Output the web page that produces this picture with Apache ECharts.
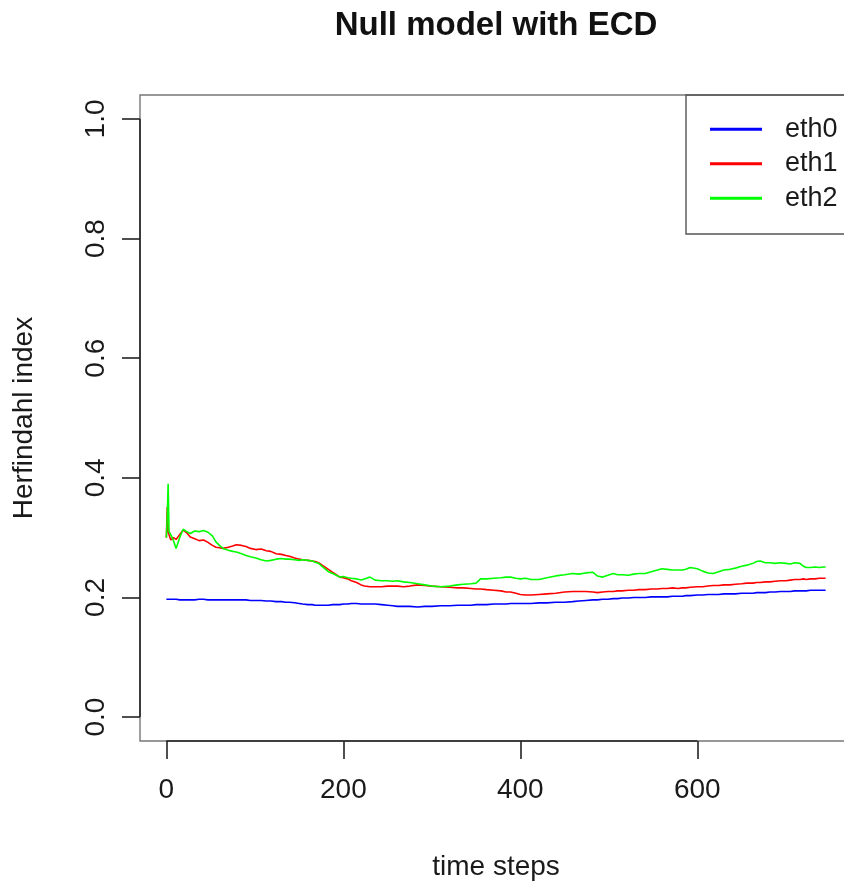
<!DOCTYPE html>
<html>
<head>
<meta charset="utf-8">
<script src="https://cdn.jsdelivr.net/npm/echarts@6/dist/echarts.min.js"></script>
<style>
html,body{margin:0;padding:0;background:#fff;}
#chart{width:844px;height:882px;}
</style>
</head>
<body>
<div id="chart"></div>
<script>
const chartTitle = 'Null model with ECD';
const xTitle = 'time steps';
const yTitle = 'Herfindahl index';
const seriesNames = ['eth0', 'eth1', 'eth2'];
const xTicks = [0, 200, 400, 600];
const yTicks = [0, 0.2, 0.4, 0.6, 0.8, 1.0];

const steps = [0,1,2,3,5,8,11,15,19,23,
27,32,37,42,47,52,56,60,64,70,
75,79,85,90,95,101,107,113,118,124,
130,135,139,145,150,154,160,165,168,172,
176,179,183,188,192,196,200,205,209,215,
220,224,230,236,243,250,256,261,268,275,
284,292,300,310,320,329,336,344,350,355,
362,370,378,384,389,395,400,406,412,421,
430,440,450,459,466,474,482,487,493,499,
505,510,515,522,528,534,541,548,555,560,
566,572,578,583,587,592,600,606,612,618,
624,630,637,643,650,656,663,667,671,677,
682,688,694,700,705,710,716,720,723,728,
733,738,742,745];

const eth0 = [0.197,0.197,0.197,0.197,0.197,0.197,0.197,0.196,0.196,0.196,
0.196,0.196,0.197,0.197,0.196,0.196,0.196,0.196,0.196,0.196,
0.196,0.196,0.196,0.196,0.195,0.195,0.195,0.194,0.194,0.193,
0.193,0.192,0.192,0.191,0.190,0.189,0.188,0.188,0.187,0.187,
0.187,0.187,0.187,0.188,0.188,0.188,0.189,0.189,0.190,0.190,
0.189,0.189,0.189,0.189,0.188,0.187,0.186,0.185,0.185,0.185,
0.184,0.185,0.185,0.186,0.186,0.187,0.187,0.187,0.188,0.188,
0.188,0.189,0.189,0.189,0.190,0.190,0.190,0.190,0.190,0.191,
0.191,0.192,0.192,0.193,0.194,0.195,0.196,0.196,0.197,0.197,
0.198,0.198,0.199,0.199,0.200,0.200,0.200,0.201,0.201,0.201,
0.201,0.202,0.202,0.202,0.203,0.203,0.204,0.204,0.205,0.205,
0.205,0.206,0.206,0.206,0.207,0.207,0.207,0.208,0.208,0.208,
0.209,0.209,0.210,0.210,0.210,0.211,0.211,0.211,0.211,0.212,
0.212,0.212,0.212,0.212];

const eth1 = [0.300,0.351,0.310,0.305,0.296,0.300,0.297,0.305,0.313,0.308,
0.301,0.298,0.295,0.296,0.292,0.287,0.284,0.283,0.282,0.284,
0.286,0.288,0.287,0.285,0.282,0.280,0.281,0.278,0.277,0.273,
0.272,0.270,0.269,0.266,0.264,0.263,0.262,0.261,0.260,0.258,
0.254,0.251,0.247,0.242,0.238,0.234,0.233,0.231,0.228,0.225,
0.221,0.219,0.218,0.218,0.218,0.219,0.219,0.219,0.218,0.219,
0.221,0.220,0.219,0.218,0.217,0.216,0.216,0.215,0.214,0.214,
0.213,0.212,0.211,0.209,0.209,0.207,0.205,0.204,0.204,0.205,
0.206,0.207,0.209,0.210,0.210,0.210,0.209,0.208,0.209,0.210,
0.210,0.211,0.211,0.212,0.212,0.213,0.213,0.214,0.214,0.215,
0.215,0.216,0.215,0.216,0.216,0.217,0.218,0.218,0.219,0.220,
0.220,0.221,0.221,0.222,0.223,0.224,0.224,0.225,0.225,0.226,
0.226,0.227,0.228,0.228,0.229,0.230,0.230,0.231,0.230,0.231,
0.231,0.232,0.232,0.232];

const eth2 = [0.300,0.335,0.390,0.310,0.305,0.295,0.282,0.300,0.314,0.310,
0.307,0.311,0.310,0.312,0.309,0.303,0.293,0.287,0.282,0.279,
0.277,0.276,0.273,0.270,0.268,0.266,0.263,0.261,0.262,0.264,
0.265,0.264,0.264,0.263,0.262,0.263,0.262,0.261,0.259,0.257,
0.252,0.248,0.243,0.240,0.237,0.234,0.235,0.233,0.232,0.231,
0.229,0.231,0.234,0.229,0.228,0.228,0.227,0.228,0.226,0.225,
0.223,0.221,0.219,0.218,0.219,0.221,0.222,0.223,0.224,0.231,
0.231,0.232,0.233,0.234,0.234,0.232,0.231,0.232,0.230,0.230,
0.233,0.236,0.238,0.240,0.239,0.241,0.242,0.236,0.234,0.237,
0.240,0.238,0.238,0.237,0.239,0.240,0.240,0.243,0.246,0.248,
0.247,0.246,0.246,0.246,0.247,0.250,0.248,0.244,0.241,0.240,
0.243,0.246,0.247,0.249,0.252,0.254,0.257,0.260,0.261,0.258,
0.258,0.257,0.258,0.257,0.256,0.258,0.257,0.252,0.250,0.250,
0.251,0.250,0.251,0.251];

const colors = ['#0000ff', '#ff0000', '#00ff00'];
const FONT = '"Liberation Sans", Arial, Helvetica, sans-serif';

// R-style axis range: data range extended by 4%
const xMinData = 0, xMaxData = 745;
const xPad = (xMaxData - xMinData) * 0.04;
const yPad = (1.0 - 0.0) * 0.04;

const chart = echarts.init(document.getElementById('chart'), null, {renderer: 'canvas'});

const allSeries = [eth0, eth1, eth2].map((vals, k) => ({
  name: seriesNames[k],
  type: 'line',
  data: steps.map((s, i) => [s, vals[i]]),
  showSymbol: false,
  symbol: 'none',
  smooth: false,
  animation: false,
  lineStyle: {color: colors[k], width: 1.6},
  itemStyle: {color: colors[k]},
  z: 2 + k
}));

// axis lines spanning from first to last tick, like R's axis()
allSeries.push({
  type: 'line',
  data: [],
  silent: true,
  animation: false,
  markLine: {
    silent: true,
    symbol: 'none',
    animation: false,
    label: {show: false},
    lineStyle: {color: '#222', width: 1.6, type: 'solid'},
    data: [
      [{coord: [xTicks[0], -yPad]}, {coord: [xTicks[xTicks.length - 1], -yPad]}],
      [{coord: [-xPad, yTicks[0]]}, {coord: [-xPad, yTicks[yTicks.length - 1]]}]
    ]
  }
});

chart.setOption({
  backgroundColor: '#ffffff',
  animation: false,
  grid: {
    left: 140, top: 95, width: 712, height: 646,
    containLabel: false,
    outerBoundsMode: 'none',
    show: true, borderColor: '#777', borderWidth: 1.4, backgroundColor: 'transparent'
  },
  legend: {
    data: seriesNames,
    orient: 'vertical',
    left: 710, top: 112,
    itemWidth: 52, itemHeight: 16,
    itemGap: 0,
    padding: 0,
    icon: 'path://M0,0 L52,0 L52,3 L0,3 Z',
    textStyle: {fontFamily: FONT, fontSize: 27, color: '#1a1a1a', lineHeight: 34.5, padding: [0, 0, 0, 18]}
  },
  xAxis: {
    type: 'value',
    min: -xPad, max: xMaxData + xPad,
    name: xTitle,
    nameLocation: 'middle',
    nameGap: 112,
    nameTextStyle: {fontFamily: FONT, fontSize: 28, color: '#1a1a1a'},
    axisLine: {show: false, onZero: false},
    splitLine: {show: false},
    axisTick: {show: true, inside: false, length: 18, customValues: xTicks, lineStyle: {color: '#222', width: 1.6}},
    axisLabel: {customValues: xTicks, margin: 35, fontFamily: FONT, fontSize: 28, color: '#1a1a1a'}
  },
  yAxis: {
    type: 'value',
    min: -yPad, max: 1.0 + yPad,
    name: yTitle,
    nameLocation: 'middle',
    nameRotate: 90,
    nameGap: 102,
    nameTextStyle: {fontFamily: FONT, fontSize: 28, color: '#1a1a1a'},
    axisLine: {show: false, onZero: false},
    splitLine: {show: false},
    axisTick: {show: true, inside: false, length: 18, customValues: yTicks, lineStyle: {color: '#222', width: 1.6}},
    axisLabel: {customValues: yTicks, rotate: 90, margin: 30, fontFamily: FONT, fontSize: 28, color: '#1a1a1a',
      formatter: v => v.toFixed(1)}
  },
  graphic: [
    {type: 'text', x: 496, y: 26, z: 10,
      style: {text: chartTitle, textAlign: 'center', textVerticalAlign: 'middle',
        font: 'bold 33px ' + FONT, fill: '#111'}},
    {type: 'rect', z: 10, silent: true,
      shape: {x: 686, y: 95, width: 220, height: 139},
      style: {fill: 'transparent', stroke: '#555', lineWidth: 1.4}}
  ],
  series: allSeries
});
</script>
</body>
</html>
